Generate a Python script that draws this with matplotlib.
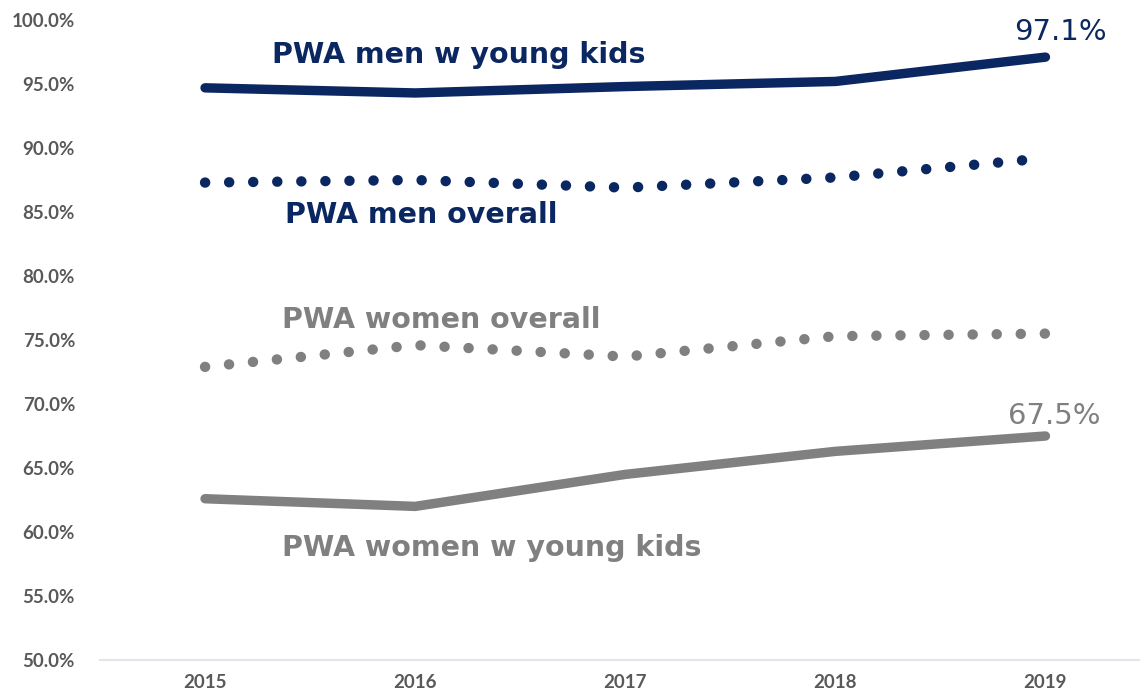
import matplotlib.pyplot as plt
from matplotlib.ticker import FuncFormatter

years = ['2015', '2016', '2017', '2018', '2019']
men_young_kids = [94.7, 94.3, 94.8, 95.2, 97.1]
men_overall = [87.3, 87.5, 86.9, 87.7, 89.2]
women_overall = [72.9, 74.6, 73.7, 75.3, 75.5]
women_young_kids = [62.6, 62.0, 64.5, 66.3, 67.5]

navy = '#0B2761'
gray = '#808080'
label_gray = '#595959'
tick_font = 'Lato'
label_font = 'DejaVu Sans'

fig = plt.figure(figsize=(11.4, 6.96), dpi=100)
ax = fig.add_axes([100 / 1140, 36 / 696, 1040 / 1140, 640 / 696])
x = list(range(len(years)))

ax.plot(x, men_young_kids, color=navy, lw=6.8, solid_capstyle='round', solid_joinstyle='round')
ax.plot(x, women_young_kids, color=gray, lw=6.8, solid_capstyle='round', solid_joinstyle='round')
ax.plot(x, men_overall, color=navy, lw=7.5, linestyle=(0, (0.01, 2.3)), dash_capstyle='round')
ax.plot(x, women_overall, color=gray, lw=7.5, linestyle=(0, (0.01, 2.3)), dash_capstyle='round')

# series labels
ax.text(0.32, 97.27, 'PWA men w young kids', color=navy, fontsize=20.5, fontweight='bold',
        family=label_font, va='center', ha='left')
ax.text(0.38, 84.77, 'PWA men overall', color=navy, fontsize=20.5, fontweight='bold',
        family=label_font, va='center', ha='left')
ax.text(0.367, 76.56, 'PWA women overall', color=gray, fontsize=20.5, fontweight='bold',
        family=label_font, va='center', ha='left')
ax.text(0.367, 58.75, 'PWA women w young kids', color=gray, fontsize=20.5, fontweight='bold',
        family=label_font, va='center', ha='left')

# end value labels
ax.text(4.07, 99.06, f'{men_young_kids[-1]:.1f}%', color=navy, fontsize=21,
        family=label_font, va='center', ha='center')
ax.text(4.04, 69.1, f'{women_young_kids[-1]:.1f}%', color=gray, fontsize=21,
        family=label_font, va='center', ha='center')

ax.set_xlim(-0.5, 4.45)
ax.set_ylim(50, 100)
ax.set_yticks(range(50, 101, 5))
ax.yaxis.set_major_formatter(FuncFormatter(lambda v, p: f'{v:.1f}%'))
ax.set_xticks(x)
ax.set_xticklabels(years)

for s in ['top', 'right', 'left']:
    ax.spines[s].set_visible(False)
ax.spines['bottom'].set_color('#E4E4EC')
ax.spines['bottom'].set_linewidth(1.5)
ax.tick_params(length=0, labelsize=13.5, labelcolor=label_gray)
ax.tick_params(axis='y', pad=18)
ax.tick_params(axis='x', pad=10)
for lbl in ax.get_xticklabels() + ax.get_yticklabels():
    lbl.set_fontweight('bold')
    lbl.set_family(tick_font)

plt.savefig('out.png', dpi=100)
